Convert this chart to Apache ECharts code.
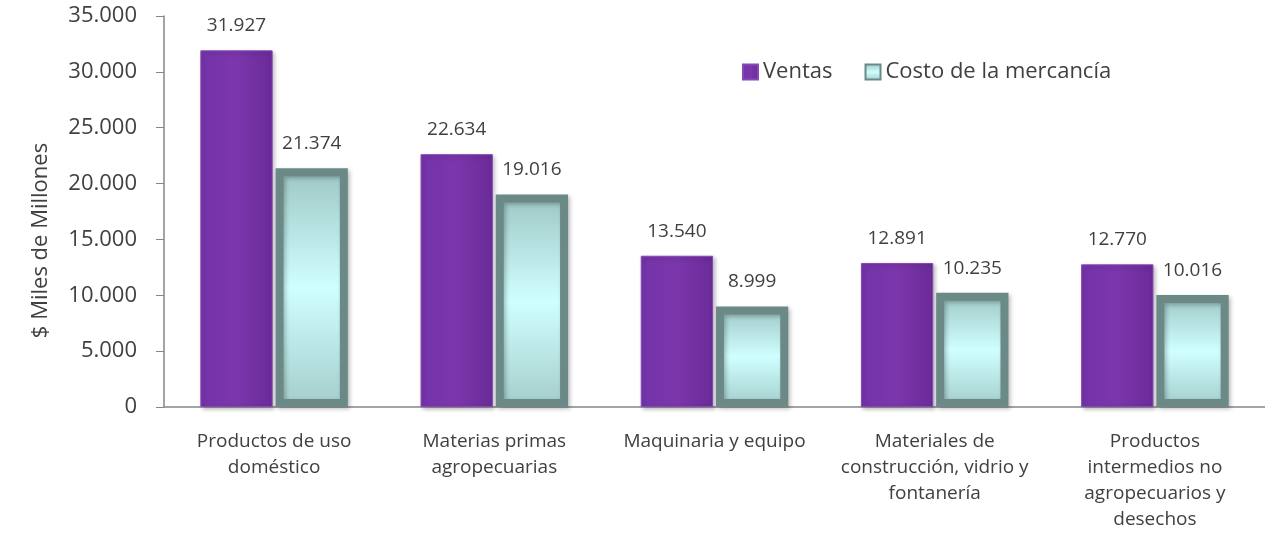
<!DOCTYPE html>
<html>
<head>
<meta charset="utf-8">
<script src="https://cdn.jsdelivr.net/npm/echarts@6/dist/echarts.min.js"></script>
<style>
  html, body { margin: 0; padding: 0; background: #fff; }
  #chart { width: 1265px; height: 537px; }
</style>
</head>
<body>
<div id="chart"></div>
<script>
var categories = [
  'Productos de uso\ndoméstico',
  'Materias primas\nagropecuarias',
  'Maquinaria y equipo',
  'Materiales de\nconstrucción, vidrio y\nfontanería',
  'Productos\nintermedios no\nagropecuarios y\ndesechos'
]
var ventas = [31927, 22634, 13540, 12891, 12770]
var costo = [21374, 19016, 8999, 10235, 10016]

function fmt(v) {
  return String(v).replace(/\B(?=(\d{3})+(?!\d))/g, '.')
}

var font = '"Open Sans", "Liberation Sans", sans-serif'
var chart = echarts.init(document.getElementById('chart'))
var option = {
  animation: false,
  textStyle: { fontFamily: font },
  legend: {
    top: 56,
    left: 737,
    icon: 'rect',
    itemWidth: 15,
    itemHeight: 15,
    itemGap: 32,
    textStyle: { fontSize: 22, color: '#404040', fontFamily: font },
    data: ['Ventas', 'Costo de la mercancía']
  },
  grid: { left: 164, right: -8, top: 16, bottom: 130 },
  xAxis: {
    type: 'category',
    data: categories,
    axisLine: { lineStyle: { color: '#868686', width: 1.5 } },
    axisTick: { show: false },
    axisLabel: { color: '#404040', fontSize: 19, lineHeight: 26, margin: 22, interval: 0 }
  },
  yAxis: {
    type: 'value',
    min: 0,
    max: 35000,
    interval: 5000,
    name: '$ Miles de Millones',
    nameLocation: 'middle',
    nameGap: 112,
    nameTextStyle: { fontSize: 22, color: '#404040', padding: [0, 58, 0, 0] },
    splitLine: { show: false },
    axisLine: { show: true, lineStyle: { color: '#868686', width: 1.5 } },
    axisTick: { show: true, length: 8, lineStyle: { color: '#868686' } },
    axisLabel: { color: '#404040', fontSize: 22, margin: 27, formatter: fmt }
  },
  series: [
    {
      name: 'Ventas',
      type: 'bar',
      data: ventas,
      barGap: '4%',
      barCategoryGap: '33%',
      itemStyle: {
        color: new echarts.graphic.LinearGradient(0, 0, 1, 0, [
          { offset: 0, color: '#7434aa' },
          { offset: 0.5, color: '#7b36ab' },
          { offset: 1, color: '#6a2b98' }
        ]),
        borderColor: '#8548b5',
        borderWidth: 1,
        shadowColor: 'rgba(0,0,0,0.25)',
        shadowBlur: 4,
        shadowOffsetX: 2,
        shadowOffsetY: 2
      },
      label: {
        show: true,
        position: 'top',
        distance: 15,
        fontSize: 19,
        color: '#404040',
        formatter: function (p) { return fmt(p.value) }
      }
    },
    {
      name: 'Costo de la mercancía',
      type: 'bar',
      data: costo,
      itemStyle: {
        color: new echarts.graphic.LinearGradient(0, 0, 0, 1, [
          { offset: 0, color: '#9cc6c4' },
          { offset: 0.5, color: '#d0ffff' },
          { offset: 1, color: '#a3cdcb' }
        ]),
        borderColor: '#6b8a87',
        borderWidth: 8,
        shadowColor: 'rgba(0,0,0,0.25)',
        shadowBlur: 4,
        shadowOffsetX: 2,
        shadowOffsetY: 2
      },
      label: {
        show: true,
        position: 'top',
        distance: 15,
        fontSize: 19,
        color: '#404040',
        formatter: function (p) { return fmt(p.value) }
      }
    }
  ]
}
chart.setOption(option)
</script>
</body>
</html>
